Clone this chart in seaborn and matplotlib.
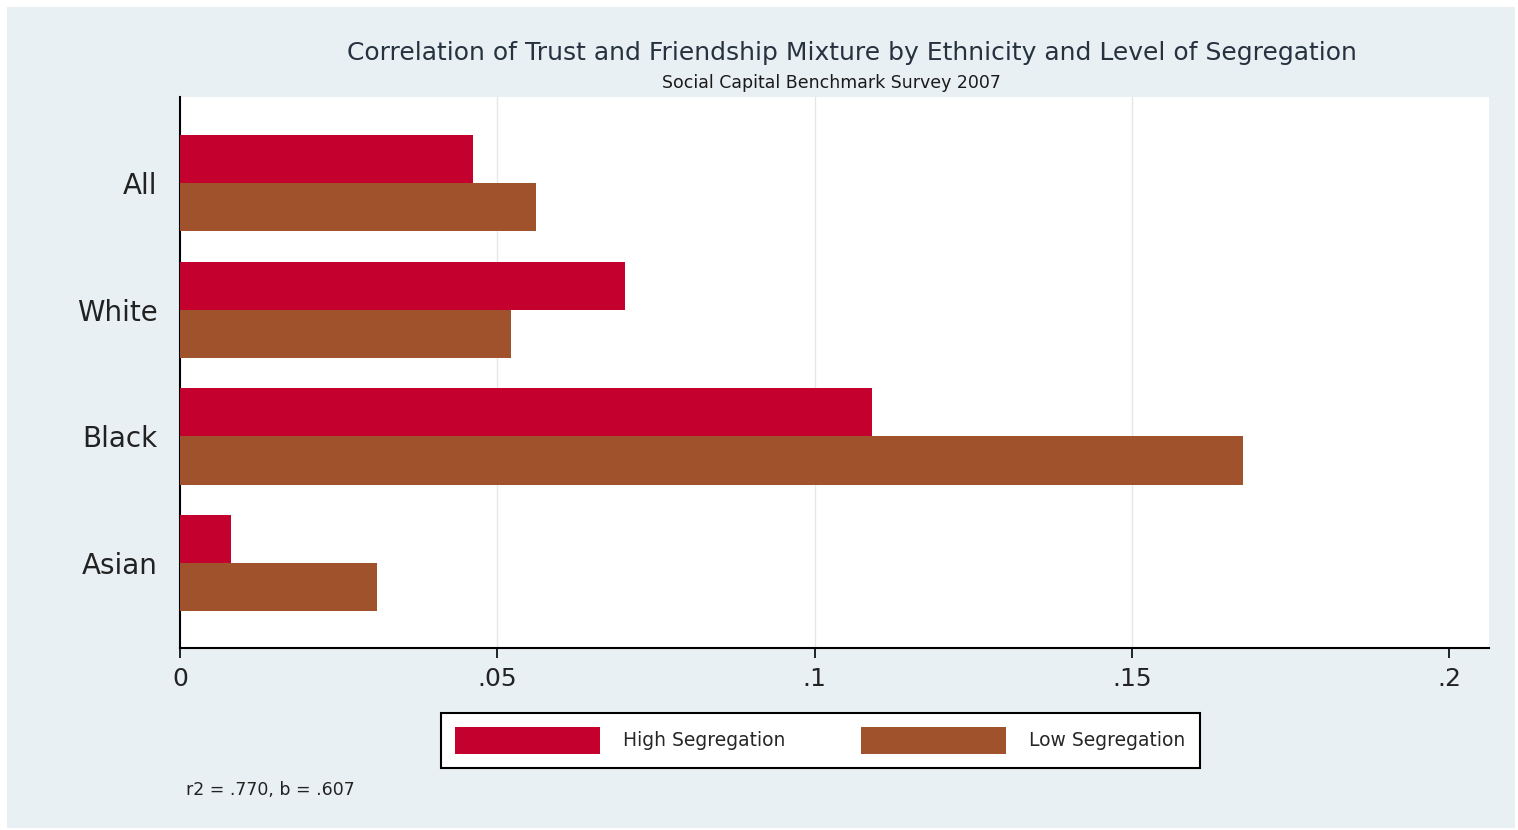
import matplotlib
matplotlib.use("Agg")
import matplotlib.pyplot as plt
from matplotlib.patches import Rectangle
import seaborn as sns
import pandas as pd

groups = ["All", "White", "Black", "Asian"]
series = ["High Segregation", "Low Segregation"]
high_seg = [0.0462, 0.0702, 0.1091, 0.0080]
low_seg = [0.0561, 0.0522, 0.1675, 0.0311]
x_ticks = [0, 0.05, 0.1, 0.15, 0.2]
x_tick_labels = ["0", ".05", ".1", ".15", ".2"]

colors = {"High Segregation": "#C4002F", "Low Segregation": "#A0522D"}

df = pd.DataFrame({
    "group": groups * 2,
    "series": [series[0]] * len(groups) + [series[1]] * len(groups),
    "value": high_seg + low_seg,
})

sns.set_theme(style="white")
plt.rcParams["font.family"] = ["DejaVu Sans"]

W, H = 1518, 830
fig = plt.figure(figsize=(W / 100, H / 100), dpi=100)
fig.patch.set_facecolor("white")
fig.patches.append(Rectangle((7 / W, 2 / H), (1515 - 7) / W, (823 - 2) / H,
                             transform=fig.transFigure, facecolor="#E9F0F3",
                             edgecolor="none", zorder=-10))

ax = fig.add_axes([180 / W, 1 - 648 / H, (1489 - 180) / W, (648 - 97) / H])
ax.set_facecolor("white")

sns.barplot(data=df, y="group", x="value", hue="series", order=groups,
            hue_order=series, palette=colors, width=0.76, orient="h",
            saturation=1, ax=ax, linewidth=0, zorder=3)

ax.set_xlim(0, 0.2063)
ax.set_ylim(3.67, -0.68)
ax.set_xticks(x_ticks)
ax.set_xticklabels(x_tick_labels, fontsize=18, color="#222222")
ax.set_xlabel("")
ax.set_ylabel("")
ax.tick_params(axis="x", direction="out", length=7, width=1.2, color="black",
               pad=7, bottom=True)
ax.tick_params(axis="y", length=0, pad=16, labelsize=20, labelcolor="#222222")

ax.xaxis.grid(True, color="#E6E6E6", linewidth=1, zorder=0)
ax.yaxis.grid(False)
grid_lines = ax.get_xgridlines()
grid_lines[0].set_visible(False)
grid_lines[-1].set_visible(False)

for side in ["top", "right"]:
    ax.spines[side].set_visible(False)
for side in ["left", "bottom"]:
    ax.spines[side].set_color("black")
    ax.spines[side].set_linewidth(1.5)

# Legend box below the axis, two entries side by side
handles, labels = ax.get_legend_handles_labels()
ax.get_legend().remove()
leg_fs = 13.5
em = leg_fs * 100 / 72
leg = fig.legend(handles, labels, ncol=2, loc="upper left",
                 bbox_to_anchor=(441 / W, 1 - 713 / H),
                 fontsize=leg_fs, handlelength=145 / em,
                 handleheight=34 / em, borderaxespad=0, frameon=True,
                 fancybox=False, edgecolor="black", borderpad=14 / em,
                 handletextpad=23 / em, columnspacing=76 / em)
leg.get_frame().set_linewidth(1.5)
leg.get_frame().set_facecolor("white")
leg.get_frame().set_alpha(1)

fig.text(852 / W, 1 - 53 / H,
         "Correlation of Trust and Friendship Mixture by Ethnicity and Level of Segregation",
         ha="center", va="center", fontsize=18, color="#26323F")
fig.text(831 / W, 1 - 83 / H, "Social Capital Benchmark Survey 2007",
         ha="center", va="center", fontsize=12.5, color="#1A1A1A")
fig.text(186 / W, 1 - 790 / H, "r2 = .770, b = .607",
         ha="left", va="center", fontsize=12.5, color="#222222")

fig.savefig("out.png", dpi=100)
